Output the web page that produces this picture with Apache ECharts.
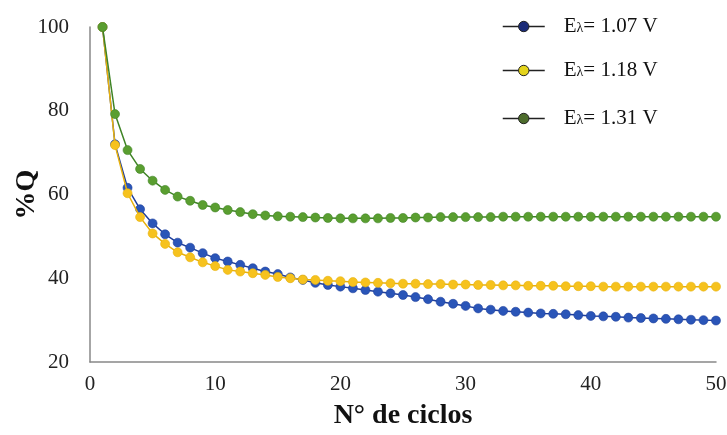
<!DOCTYPE html>
<html>
<head>
<meta charset="utf-8">
<script src="https://cdn.jsdelivr.net/npm/echarts@6/dist/echarts.min.js"></script>
<style>
  html, body { margin: 0; padding: 0; background: #fff; }
  #chart { width: 727px; height: 435px; }
</style>
</head>
<body>
<div id="chart"></div>
<script>
// Cycle numbers (x axis)
const cycles = [1,2,3,4,5,6,7,8,9,10,11,12,13,14,15,16,17,18,19,20,21,22,23,24,25,
                26,27,28,29,30,31,32,33,34,35,36,37,38,39,40,41,42,43,44,45,46,47,48,49,50];

// %Q retained per cycle at each switching potential
const q107 = [100,72.0,61.6,56.5,53.1,50.5,48.5,47.3,46.0,44.8,44.0,43.2,42.4,41.6,41.0,40.2,39.6,38.9,38.4,38.0,
              37.6,37.2,36.8,36.4,36.0,35.5,35.0,34.4,33.9,33.4,32.8,32.5,32.2,32.0,31.8,31.6,31.5,31.4,31.2,31.0,
              30.9,30.8,30.6,30.5,30.4,30.3,30.2,30.1,30.0,29.9];
const q118 = [100,71.8,60.3,54.6,50.7,48.2,46.2,45.0,43.8,42.9,42.0,41.6,41.2,40.8,40.3,40.0,39.7,39.6,39.4,39.3,
              39.1,39.0,38.9,38.8,38.7,38.7,38.6,38.6,38.5,38.5,38.4,38.4,38.3,38.3,38.2,38.2,38.2,38.1,38.1,38.1,
              38.0,38.0,38.0,38.0,38.0,38.0,38.0,38.0,38.0,38.0];
const q131 = [100,79.2,70.6,66.1,63.3,61.1,59.5,58.5,57.5,56.9,56.3,55.8,55.3,55.0,54.8,54.7,54.6,54.5,54.4,54.3,
              54.3,54.3,54.3,54.4,54.4,54.5,54.5,54.6,54.6,54.6,54.6,54.6,54.7,54.7,54.7,54.7,54.7,54.7,54.7,54.7,
              54.7,54.7,54.7,54.7,54.7,54.7,54.7,54.7,54.7,54.7];

// Legend / series labels (switching potentials)
const potentials = ['1.07', '1.18', '1.31'];
const yTicks = [20, 40, 60, 80, 100];
const xTicks = [0, 10, 20, 30, 40, 50];

const serif = '"Liberation Serif", "DejaVu Serif", serif';
const names = potentials.map(p => 'Eλ= ' + p + ' V');

const lineColors   = ['#1f3f9c', '#e8b10c', '#3f8426'];
const markerColors = ['#2a55b8', '#f6c21e', '#5a9e30'];
const legendDots   = ['#1c2c78', '#e4d41c', '#4d6c2c'];
const seriesData = [q107, q118, q131];

function pairs(vals) { return cycles.map((c, i) => [c, vals[i]]); }

const series = names.map((n, k) => ({
  name: n,
  type: 'line',
  data: pairs(seriesData[k]),
  symbol: 'circle',
  symbolSize: 9,
  showSymbol: true,
  z: 2 + k,
  lineStyle: { color: lineColors[k], width: 1.5 },
  itemStyle: { color: markerColors[k], borderColor: lineColors[k], borderWidth: 0.6 },
  emphasis: { disabled: true },
  animation: false
}));

const legendTops = [16, 60, 108];
const legends = names.map((n, k) => ({
  data: [{
    name: n,
    itemStyle: { color: legendDots[k], borderColor: '#222', borderWidth: 1 },
    lineStyle: { color: '#222', width: 1.5 }
  }],
  left: 502,
  top: legendTops[k],
  padding: 0,
  itemWidth: 42,
  itemHeight: 13,
  selectedMode: false,
  formatter: name => '{e|E}{l|λ}{e|' + name.slice(2) + '}',
  textStyle: {
    padding: [0, 0, 0, 14],
    rich: {
      e: { fontFamily: serif, fontSize: 21, color: '#111' },
      l: { fontFamily: serif, fontSize: 14, color: '#111', padding: [4, 0, 0, 0] }
    }
  }
}));

const chart = echarts.init(document.getElementById('chart'), null, { renderer: 'canvas' });
chart.setOption({
  backgroundColor: '#fff',
  animation: false,
  legend: legends,
  grid: { left: 90, right: 11, top: 27, bottom: 73, containLabel: false, outerBoundsMode: 'none' },
  xAxis: {
    type: 'value',
    min: xTicks[0], max: xTicks[xTicks.length - 1], interval: 10,
    name: 'N° de ciclos',
    nameLocation: 'middle',
    nameGap: 40,
    nameTextStyle: { fontFamily: serif, fontSize: 28, fontWeight: 'bold', color: '#111' },
    axisLine: { lineStyle: { color: '#888', width: 1.5 } },
    axisTick: { show: false },
    splitLine: { show: false },
    axisLabel: { fontFamily: serif, fontSize: 21, color: '#222', margin: 12 }
  },
  yAxis: {
    type: 'value',
    min: yTicks[0], max: yTicks[yTicks.length - 1], interval: 20,
    name: '%Q',
    nameLocation: 'middle',
    nameRotate: 90,
    nameGap: 49,
    nameMoveOverlap: false,
    nameTextStyle: { fontFamily: serif, fontSize: 28, fontWeight: 'bold', color: '#111' },
    axisLine: { show: true, lineStyle: { color: '#888', width: 1.5 } },
    axisTick: { show: false },
    splitLine: { show: false },
    axisLabel: { fontFamily: serif, fontSize: 21, color: '#222', margin: 21 }
  },
  series: series
});
</script>
</body>
</html>
